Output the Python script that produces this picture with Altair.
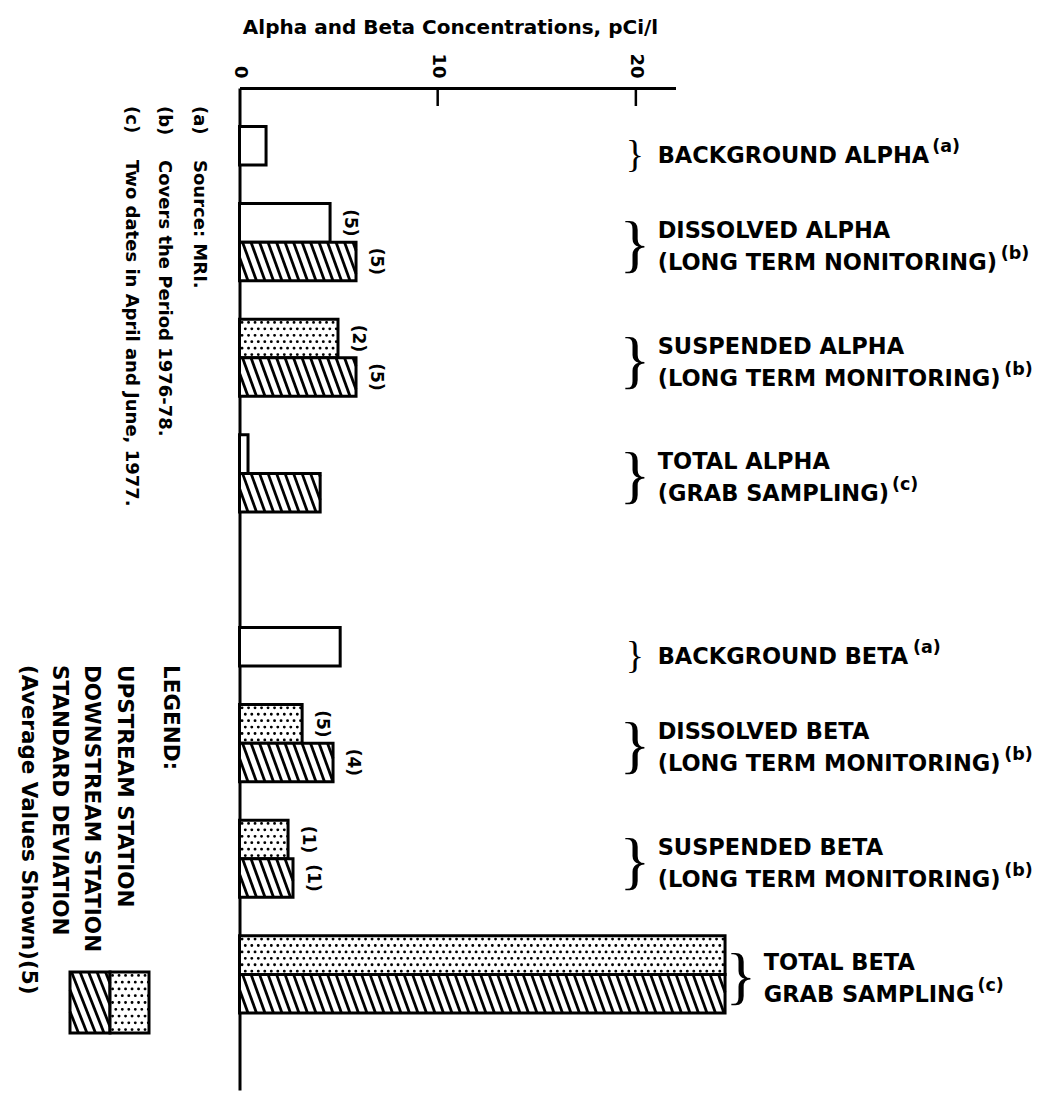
import altair as alt
import pandas as pd

# ---------------- values ----------------
X_TITLE = "Alpha and Beta Concentrations, pCi/l"
X_TICKS = [0, 10, 20]
X_AXIS_MAX = 22

GROUP_TITLE = ["BACKGROUND ALPHA", "DISSOLVED ALPHA", "SUSPENDED ALPHA", "TOTAL ALPHA",
               "BACKGROUND BETA", "DISSOLVED BETA", "SUSPENDED BETA", "TOTAL BETA"]
GROUP_SUBTITLE = ["", "(LONG TERM NONITORING)", "(LONG TERM MONITORING)", "(GRAB SAMPLING)",
                  "", "(LONG TERM MONITORING)", "(LONG TERM MONITORING)", "GRAB SAMPLING"]
GROUP_NOTE = ["(a)", "(b)", "(b)", "(c)", "(a)", "(b)", "(b)", "(c)"]
# first bar of each group: background value or upstream station
UPSTREAM = [1.34, 4.57, 4.97, 0.43, 5.08, 3.16, 2.45, 24.5]
# second bar: downstream station (None = no second bar)
DOWNSTREAM = [None, 5.88, 5.88, 4.07, None, 4.72, 2.70, 24.5]
UPSTREAM_SD = ["", "(5)", "(2)", "", "", "(5)", "(1)", ""]
DOWNSTREAM_SD = ["", "(5)", "(5)", "", "", "(4)", "(1)", ""]

NOTE_MARKS = ["(a)", "(b)", "(c)"]
NOTE_TEXTS = ["Source:  MRI.", "Covers the Period 1976-78.", "Two dates in April and June, 1977."]
LEGEND_LINES = ["LEGEND:", "UPSTREAM STATION", "DOWNSTREAM STATION", "STANDARD DEVIATION",
                "(Average Values Shown)(5)"]

# ---------------- layout / style ----------------
FONT = "DejaVu Sans"
BRACE_FONT = "Liberation Serif"
LABEL_SIZE = 22.5
SUP_SIZE = 17.5
STIPPLED_UPSTREAM = {"SUSPENDED ALPHA", "DISSOLVED BETA", "SUSPENDED BETA", "TOTAL BETA"}
GAPS_BEFORE = [1, 1, 1, 1, 3, 1, 1, 1]
TRAILING_GAP = 2
PAGE_X0, PAGE_Y0 = 239.5, 88.0      # page position of the plot origin
W, H = 436, 1002
PXU = W / X_AXIS_MAX                # pixels per concentration unit

# approximate advance widths (em) of DejaVu Sans Bold, used to place superscripts
ADV = {" ": 0.348, "(": 0.457, ")": 0.457, "A": 0.774, "B": 0.762, "C": 0.734, "D": 0.830,
       "E": 0.683, "G": 0.821, "H": 0.837, "I": 0.372, "K": 0.775, "L": 0.637, "M": 0.995,
       "N": 0.837, "O": 0.850, "P": 0.733, "R": 0.770, "S": 0.720, "T": 0.682, "U": 0.812,
       "V": 0.774}


def text_width(s, size):
    return sum(ADV.get(ch, 0.75) for ch in s) * size


bars, sds, labels, braces = [], [], [], []
r = 0
for i, title in enumerate(GROUP_TITLE):
    r += GAPS_BEFORE[i]
    kind = "dotted" if title in STIPPLED_UPSTREAM else "open"
    bars.append(dict(row=r, row_end=r + 1, x0=0.0, value=UPSTREAM[i], kind=kind))
    sds.append(dict(yc=r + 0.5, value=UPSTREAM[i], sd=UPSTREAM_SD[i]))
    vals = [UPSTREAM[i]]
    if DOWNSTREAM[i] is not None:
        bars.append(dict(row=r + 1, row_end=r + 2, x0=0.0, value=DOWNSTREAM[i], kind="hatched"))
        sds.append(dict(yc=r + 1.5, value=DOWNSTREAM[i], sd=DOWNSTREAM_SD[i]))
        vals.append(DOWNSTREAM[i])
        anchor, two = r + 1, True
        r += 2
    else:
        anchor, two = r + 0.5, False
        r += 1
    braces.append(dict(anchor=anchor, two=two, bx=max(max(vals) + 0.8, 19.95)))
    labels.append(dict(anchor=anchor, two=two, i=i))
N_ROWS = r + TRAILING_GAP
ROW_PX = H / N_ROWS


def ux(page_x):
    return (page_x - PAGE_X0) / PXU


def uy(page_y):
    return (page_y - PAGE_Y0) / ROW_PX


def hatch(x_lo, x_hi, y_lo, y_hi, step, run):
    segs = []
    a = x_lo - run
    while a < x_hi:
        t0 = max(0.0, (x_lo - a) / run)
        t1 = min(1.0, (x_hi - a) / run)
        if t1 > t0:
            segs.append(dict(hx=a + run * t0, hx2=a + run * t1,
                             hy=y_lo + (y_hi - y_lo) * t0, hy2=y_lo + (y_hi - y_lo) * t1))
        a += step
    return segs


def dots(x_lo, x_hi, y_lo, y_hi, nrows):
    out = []
    for k in range(nrows):
        out.append(dict(dx0=x_lo, dx1=x_hi, dy=y_lo + (y_hi - y_lo) * (k + 0.5) / nrows,
                        parity=k % 2))
    return out


hatch_rows, dot_rows = [], []
for b in bars:
    if b["kind"] == "hatched":
        hatch_rows += hatch(0.0, b["value"], b["row"], b["row_end"], 8.5 / PXU, 14.0 / PXU)
    elif b["kind"] == "dotted":
        dot_rows += dots(0.0, b["value"], b["row"], b["row_end"], 6)

# legend swatch (page coordinates converted to data units)
SW_X = [70, 110, 149]
SW_Y = [972, 1033]
swatch = [dict(sx=ux(SW_X[0]), sx2=ux(SW_X[1]), sy=uy(SW_Y[0]), sy2=uy(SW_Y[1])),
          dict(sx=ux(SW_X[1]), sx2=ux(SW_X[2]), sy=uy(SW_Y[0]), sy2=uy(SW_Y[1]))]
hatch_rows += hatch(ux(SW_X[0]), ux(SW_X[1]), uy(SW_Y[0]), uy(SW_Y[1]), 8.5 / PXU, 24.0 / PXU)
dot_rows += dots(ux(SW_X[1]), ux(SW_X[2]), uy(SW_Y[0]), uy(SW_Y[1]), 9)

# right-hand group labels
lab_rows, sup_rows, brace_rows = [], [], []
for lab, br in zip(labels, braces):
    i = lab["i"]
    tx = br["bx"] + 1.15
    if lab["two"]:
        lines = [(GROUP_TITLE[i], -11), (GROUP_SUBTITLE[i], 21)]
        brace_rows.append(dict(bx=br["bx"], by=br["anchor"] + 4 / ROW_PX, big=1))
    else:
        lines = [(GROUP_TITLE[i], 10)]
        brace_rows.append(dict(bx=br["bx"], by=br["anchor"] + 10 / ROW_PX, big=0))
    for t, off in lines:
        lab_rows.append(dict(tx=tx, ty=lab["anchor"] + off / ROW_PX, t=t))
    last, off = lines[-1]
    sup_rows.append(dict(sx=tx + (text_width(last, LABEL_SIZE) + 3) / PXU,
                         sy=lab["anchor"] + (off - 9) / ROW_PX, t=GROUP_NOTE[i]))

# rotated notes and legend text on the left
NOTE_COLS = [199, 164, 131]
free_text = []
for col, m, t in zip(NOTE_COLS, NOTE_MARKS, NOTE_TEXTS):
    free_text.append(dict(fx=ux(col), fy=uy(106), t=m, s=18))
    free_text.append(dict(fx=ux(col), fy=uy(160), t=t, s=18))
LEGEND_COLS = [170, 124, 91, 59, 28]
for col, t in zip(LEGEND_COLS, LEGEND_LINES):
    free_text.append(dict(fx=ux(col), fy=uy(665), t=t, s=21.5))

xs = alt.Scale(domain=[0, X_AXIS_MAX], nice=False, zero=False)
ys = alt.Scale(domain=[0, N_ROWS], reverse=True, nice=False, zero=False)

x_axis = alt.Axis(orient="top", values=X_TICKS, labelAngle=90, labelAlign="right",
                  labelBaseline="middle", labelPadding=10, labelFlush=False, labelFont=FONT,
                  labelFontSize=18, labelFontWeight="bold", labelColor="black",
                  ticks=False, domainColor="black", domainWidth=3, grid=False,
                  title=X_TITLE, titleFont=FONT, titleFontSize=20, titleFontWeight="bold",
                  titleColor="black", titleX=210.5, titleY=-61, titleAlign="center",
                  titleBaseline="middle", titleAngle=0)
y_axis = alt.Axis(orient="left", labels=False, ticks=False, domainColor="black", domainWidth=3,
                  grid=False, title=None)


def X(field):
    return alt.X(field, scale=xs, axis=x_axis)


def Y(field):
    return alt.Y(field, scale=ys, axis=y_axis)


bar_layer = alt.Chart(pd.DataFrame(bars)).mark_rect(
    fill="white", stroke="black", strokeWidth=3).encode(
    x=X("x0:Q"), x2="value:Q", y=Y("row:Q"), y2="row_end:Q")

swatch_layer = alt.Chart(pd.DataFrame(swatch)).mark_rect(
    fill="white", stroke="black", strokeWidth=3).encode(
    x=X("sx:Q"), x2="sx2:Q", y=Y("sy:Q"), y2="sy2:Q")

hatch_layer = alt.Chart(pd.DataFrame(hatch_rows)).mark_rule(
    color="black", strokeWidth=2.8).encode(
    x=X("hx:Q"), x2="hx2:Q", y=Y("hy:Q"), y2="hy2:Q")

dot_df = pd.DataFrame(dot_rows)
dot_layers = []
for parity, off in [(0, 4.0), (1, 0.75)]:
    dot_layers.append(alt.Chart(dot_df[dot_df.parity == parity]).mark_rule(
        color="black", strokeWidth=2.8, strokeCap="round", strokeDash=[0.1, 6.4],
        strokeDashOffset=off).encode(
        x=X("dx0:Q"), x2="dx1:Q", y=Y("dy:Q")))

tick_layer = alt.Chart(pd.DataFrame({"tick": [t for t in X_TICKS if t > 0]})).mark_rule(
    color="black", strokeWidth=2.5).encode(
    x=X("tick:Q"), y=alt.value(0), y2=alt.value(18))

sd_layer = alt.Chart(pd.DataFrame(sds)).mark_text(
    angle=90, align="center", baseline="middle", dy=-20, font=FONT, fontWeight="bold",
    fontSize=17, color="black").encode(
    x=X("value:Q"), y=Y("yc:Q"), text="sd:N")

label_layer = alt.Chart(pd.DataFrame(lab_rows)).mark_text(
    align="left", baseline="middle", font=FONT, fontWeight="bold", fontSize=LABEL_SIZE,
    color="black").encode(
    x=X("tx:Q"), y=Y("ty:Q"), text="t:N")

sup_layer = alt.Chart(pd.DataFrame(sup_rows)).mark_text(
    align="left", baseline="middle", font=FONT, fontWeight="bold", fontSize=SUP_SIZE,
    color="black").encode(
    x=X("sx:Q"), y=Y("sy:Q"), text="t:N")

brace_df = pd.DataFrame(brace_rows)
brace_layers = []
for big, size in [(1, 64), (0, 38)]:
    brace_layers.append(alt.Chart(brace_df[brace_df.big == big]).mark_text(
        text="}", align="center", baseline="middle", font=BRACE_FONT, fontSize=size,
        color="black").encode(
        x=X("bx:Q"), y=Y("by:Q")))

free_df = pd.DataFrame(free_text)
free_layers = []
for s in sorted(free_df.s.unique()):
    free_layers.append(alt.Chart(free_df[free_df.s == s]).mark_text(
        angle=90, align="left", baseline="middle", font=FONT, fontWeight="bold",
        fontSize=float(s), color="black").encode(
        x=X("fx:Q"), y=Y("fy:Q"), text="t:N"))

chart = alt.layer(
    bar_layer, swatch_layer, hatch_layer, *dot_layers, tick_layer, sd_layer,
    label_layer, sup_layer, *brace_layers, *free_layers
).properties(
    width=W, height=H, autosize="none",
    padding={"left": PAGE_X0 - 8, "top": PAGE_Y0 - 8, "right": 362, "bottom": 1},
    background="white"
).configure_view(stroke=None)

chart.save("out.html", embed_options={"renderer": "svg", "actions": False})
